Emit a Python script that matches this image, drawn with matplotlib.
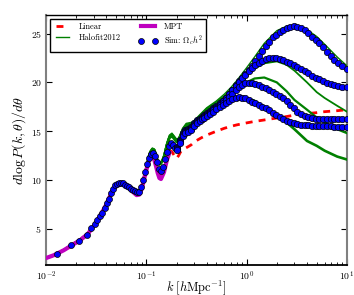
import numpy as np
import matplotlib
matplotlib.use('Agg')
from matplotlib import pyplot as plt

# ---- linear theory (red dashed) ----
k_lin = [0.01, 0.012, 0.015, 0.018, 0.022, 0.026, 0.03, 0.035, 0.04, 0.045,
         0.05, 0.055, 0.06, 0.065, 0.07, 0.075, 0.08, 0.085, 0.09, 0.095,
         0.1, 0.105, 0.11, 0.115, 0.12, 0.125, 0.13, 0.135, 0.14]
lin_low = [2.0, 2.3, 2.8, 3.35, 3.9, 4.5, 5.3, 6.4, 7.5, 8.75,
           9.45, 9.65, 9.6, 9.4, 9.05, 8.8, 8.6, 8.7, 9.3, 10.3,
           11.2, 12.0, 12.5, 12.6, 12.3, 11.6, 10.9, 10.5, 10.5]

# high-k grid shared by linear and halofit
k_hi = [0.15, 0.16, 0.17, 0.18, 0.19, 0.2, 0.21, 0.22, 0.23, 0.25, 0.28, 0.3,
        0.35, 0.4, 0.5, 0.6, 0.7, 0.8, 1.0, 1.2, 1.5, 2.0, 2.5, 3.0, 4.0, 5.0,
        6.0, 8.0, 10.0]
lin_hi = [11.3, 12.4, 13.0, 12.9, 12.5, 12.2, 12.5, 12.9, 13.1, 13.3, 13.6, 13.9,
          14.3, 14.6, 15.0, 15.3, 15.5, 15.65, 15.85, 16.0, 16.15, 16.35, 16.5,
          16.65, 16.8, 16.9, 17.0, 17.1, 17.2]

# ---- halofit 2012 (green), same low-k part for every cosmology ----
halo_low = [2.0, 2.3, 2.8, 3.35, 3.9, 4.5, 5.3, 6.4, 7.5, 8.75,
            9.45, 9.65, 9.6, 9.4, 9.05, 8.8, 8.6, 8.7, 9.3, 10.3,
            11.2, 12.3, 12.9, 13.2, 13.1, 12.5, 11.9, 11.6, 11.7]
halo_1 = [12.6, 13.8, 14.6, 14.8, 14.5, 14.2, 14.3, 14.8, 15.3, 15.8, 15.9, 16.1,
          16.8, 17.4, 18.1, 18.8, 19.5, 20.2, 21.5, 22.6, 24.0, 25.3, 25.75,
          25.85, 25.4, 24.7, 23.9, 22.6, 21.7]
halo_2 = [12.5, 13.7, 14.5, 14.7, 14.4, 14.1, 14.2, 14.7, 15.2, 15.7, 15.8, 16.0,
          16.7, 17.3, 18.0, 18.6, 19.2, 19.8, 20.7, 21.4, 21.95, 22.15, 21.8,
          21.2, 20.0, 19.0, 18.4, 17.6, 17.0]
halo_3 = [12.4, 13.6, 14.4, 14.6, 14.3, 14.0, 14.1, 14.6, 15.1, 15.6, 15.7, 15.9,
          16.6, 17.2, 17.8, 18.4, 18.9, 19.4, 20.0, 20.4, 20.5, 20.0, 19.1,
          18.2, 17.2, 16.4, 15.9, 15.2, 14.8]
halo_4 = [12.3, 13.5, 14.3, 14.5, 14.2, 13.9, 14.0, 14.5, 15.0, 15.5, 15.6, 15.8,
          16.5, 17.1, 17.6, 18.0, 18.3, 18.4, 18.4, 18.1, 17.5, 16.7, 15.9,
          15.2, 14.0, 13.5, 13.0, 12.4, 12.1]

# ---- MPT (magenta) ----
k_mpt = [0.01, 0.012, 0.015, 0.018, 0.022, 0.026, 0.03, 0.035, 0.04, 0.045,
         0.05, 0.055, 0.06, 0.065, 0.07, 0.075, 0.08, 0.085, 0.09, 0.095,
         0.1, 0.105, 0.11, 0.115, 0.12, 0.125, 0.13, 0.135, 0.14, 0.15,
         0.16, 0.17]
mpt = [2.0, 2.3, 2.8, 3.3, 3.85, 4.45, 5.3, 6.4, 7.5, 8.7,
       9.4, 9.6, 9.6, 9.35, 9.0, 8.7, 8.45, 8.5, 9.1, 10.1,
       11.0, 11.8, 12.3, 12.4, 12.1, 11.4, 10.7, 10.2, 10.1, 10.8,
       12.0, 12.8]

# ---- simulations (blue dots), common low-k points ----
k_sim_low = [0.0129, 0.0177, 0.0213, 0.0256, 0.0281, 0.0308, 0.0323, 0.0345,
             0.0362, 0.0387, 0.0406, 0.0425, 0.0445, 0.0466, 0.0488, 0.0511,
             0.0535, 0.056, 0.0586, 0.0613, 0.0641, 0.0671, 0.0703, 0.0736,
             0.077, 0.0806, 0.0844, 0.0883, 0.0924, 0.0967, 0.1012, 0.106,
             0.111, 0.116, 0.121, 0.128, 0.134, 0.14, 0.146, 0.153, 0.161,
             0.168, 0.176, 0.184, 0.193]
sim_low = [2.45, 3.3, 3.8, 4.4, 5.1, 5.5, 5.9, 6.3,
           6.6, 7.1, 7.6, 8.1, 8.7, 9.1, 9.5, 9.6,
           9.7, 9.7, 9.65, 9.5, 9.4, 9.25, 9.1, 9.0,
           8.85, 8.75, 8.8, 9.3, 10.0, 10.8, 11.6, 12.3,
           12.7, 12.8, 12.5, 11.8, 11.1, 10.9, 11.3, 12.1, 12.9,
           13.5, 13.8, 13.6, 13.3]

k_sim = [0.2, 0.215, 0.23, 0.245, 0.26, 0.28, 0.3, 0.32, 0.34, 0.36, 0.38, 0.4,
         0.43, 0.46, 0.5, 0.54, 0.58, 0.62, 0.67, 0.72, 0.78, 0.84, 0.9, 0.97,
         1.05, 1.13, 1.22, 1.32, 1.43, 1.55, 1.68, 1.82, 1.97, 2.13, 2.3, 2.5,
         2.7, 2.95, 3.2, 3.5, 3.8, 4.1, 4.5, 4.9, 5.3, 5.8, 6.3, 6.9, 7.5, 8.2,
         9.0, 10.0]
sim_1 = [13.4, 14.1, 14.8, 15.1, 15.2, 15.4, 15.8, 16.1, 16.3, 16.5, 16.7, 16.9,
         17.1, 17.4, 17.6, 17.9, 18.1, 18.4, 18.8, 19.2, 19.7, 20.1, 20.5, 20.9,
         21.3, 21.7, 22.2, 22.7, 23.2, 23.7, 24.1, 24.6, 24.9, 25.2, 25.4, 25.6,
         25.7, 25.75, 25.7, 25.6, 25.4, 25.1, 24.7, 24.3, 24.0, 23.6, 23.1, 22.7,
         22.3, 22.0, 21.7, 21.4]
sim_2 = [13.3, 14.0, 14.7, 15.0, 15.1, 15.3, 15.7, 16.0, 16.2, 16.4, 16.6, 16.8,
         17.0, 17.3, 17.5, 17.8, 18.1, 18.4, 18.8, 19.2, 19.6, 20.0, 20.4, 20.8,
         21.2, 21.5, 21.8, 22.0, 22.2, 22.35, 22.45, 22.5, 22.45, 22.35, 22.25,
         22.1, 21.95, 21.8, 21.6, 21.4, 21.2, 21.0, 20.7, 20.5, 20.3, 20.1, 19.95,
         19.8, 19.7, 19.6, 19.55, 19.5]
sim_3 = [13.2, 13.9, 14.6, 14.9, 15.0, 15.2, 15.6, 15.9, 16.1, 16.3, 16.5, 16.7,
         16.9, 17.2, 17.4, 17.7, 17.9, 18.2, 18.5, 18.8, 19.2, 19.5, 19.7, 19.9,
         19.95, 19.9, 19.8, 19.7, 19.55, 19.4, 19.2, 19.0, 18.8, 18.6, 18.35,
         18.05, 17.7, 17.35, 17.0, 16.75, 16.6, 16.5, 16.4, 16.3, 16.3, 16.25,
         16.2, 16.2, 16.2, 16.2, 16.2, 16.2]
sim_4 = [13.1, 13.8, 14.5, 14.8, 14.9, 15.1, 15.5, 15.8, 16.0, 16.2, 16.4, 16.6,
         16.8, 17.0, 17.3, 17.5, 17.7, 17.9, 18.1, 18.3, 18.45, 18.5, 18.45,
         18.35, 18.2, 18.0, 17.85, 17.7, 17.5, 17.35, 17.15, 16.9, 16.7, 16.45,
         16.25, 16.05, 15.9, 15.8, 15.7, 15.65, 15.6, 15.6, 15.55, 15.5, 15.5,
         15.5, 15.5, 15.5, 15.45, 15.45, 15.45, 15.45]

plt.rcParams['font.family'] = 'serif'
plt.rcParams['font.serif'] = ['cmr10', 'DejaVu Serif']
plt.rcParams['mathtext.fontset'] = 'cm'
plt.rcParams['axes.formatter.use_mathtext'] = True

fig = plt.figure(figsize=(3.54, 2.95), dpi=100)
ax = fig.add_axes([0.130, 0.102, 0.850, 0.847])

ax.plot(k_lin + k_hi, lin_low + lin_hi, 'r--', lw=2, dashes=(2.5, 2.2),
        label='Linear', zorder=2)
for i, hh in enumerate([halo_1, halo_2, halo_3, halo_4]):
    ax.plot(k_lin + k_hi, halo_low + hh, color='green', lw=1.0 + 0.3 * i,
            label='Halofit2012' if i == 0 else None, zorder=3)
ax.plot(k_mpt, mpt, color='m', lw=3, label='MPT', zorder=4)
ax.plot(k_sim_low, sim_low, 'o', ms=4.3, mfc='blue', mec='black', mew=0.5,
        label=r'Sim: $\Omega_c h^2$', zorder=5)
for ss in [sim_1, sim_2, sim_3, sim_4]:
    ax.plot(k_sim, ss, 'o', ms=4.6, mfc='blue', mec='black', mew=0.5, zorder=5)

ax.set_xscale('log')
ax.set_xlim(0.01, 10)
ax.set_ylim(1.3, 26.9)
ax.set_yticks([5, 10, 15, 20, 25])
ax.tick_params(which='both', direction='in', top=True, right=True, labelsize=7,
               pad=3)
ax.tick_params(which='major', length=4)
ax.tick_params(which='minor', length=2)
for side in ['left', 'right']:
    ax.spines[side].set_color('0.5')
    ax.spines[side].set_linewidth(1.5)
ax.spines['bottom'].set_linewidth(1.3)
ax.spines['top'].set_linewidth(1.0)

ax.set_xlabel(r'$k\;[h{\rm Mpc}^{-1}]$', fontsize=9)
ax.xaxis.set_label_coords(0.5, -0.052)
ax.set_ylabel(r'$d\log P(k,\theta)/d\theta$', fontsize=10, labelpad=2)

leg = ax.legend(loc='upper left', ncol=2, fontsize=6, numpoints=2,
                handlelength=2.2, columnspacing=2.2, borderpad=0.4,
                labelspacing=0.35, fancybox=False, framealpha=1,
                bbox_to_anchor=(0.0, 1.0))
leg.get_frame().set_edgecolor('black')
leg.get_frame().set_linewidth(1.0)

fig.savefig('out.png', dpi=100)
